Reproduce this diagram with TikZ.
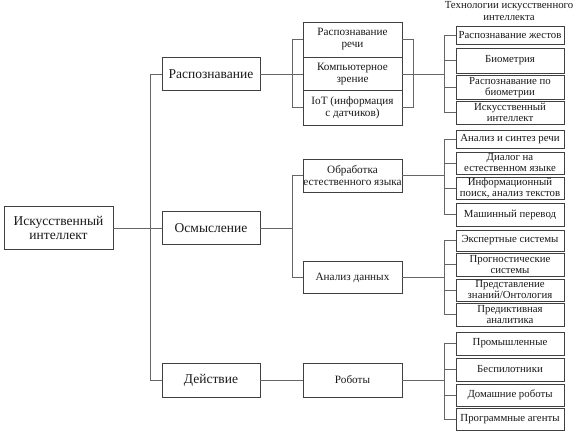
\documentclass[tikz,border=0pt]{standalone}
\usepackage{fontspec}
\setmainfont{Liberation Serif}
\begin{document}
\begin{tikzpicture}[x=1pt,y=-1pt,
  boxc/.style={draw=black!75, line width=0.9pt, fill=white, inner sep=0pt, align=center, text=black!90},
  big/.style={boxc, font=\fontsize{13.5}{14}\selectfont},
  mid/.style={boxc, minimum width=99, font=\fontsize{11.2}{12}\selectfont},
  sml/.style={boxc, minimum width=108, font=\fontsize{10.8}{11}\selectfont},
  conn/.style={draw=black!60, line width=0.7pt}]
\useasboundingbox (0,0) rectangle (577,432);
% root and level 1
\node[big, minimum width=109, minimum height=43] (root) at (58.5,228) {Искусственный\\интеллект};
\node[big, minimum width=98, minimum height=33] (rec) at (211,74) {Распознавание};
\node[big, minimum width=98, minimum height=33] (osm) at (211,228) {Осмысление};
\node[big, minimum width=98, minimum height=34] (act) at (211,380) {Действие};
% level 2
\node[mid, minimum height=35] (sp) at (352.5,39.5) {Распознавание\\речи};
\node[mid, minimum height=33] (cv) at (352.5,74) {Компьютерное\\зрение};
\node[mid, minimum height=35] (iot) at (352.5,107.5) {IoT (информация\\с датчиков)};
\node[mid, minimum height=33] (nlp) at (352.5,175.5) {Обработка\\естественного языка};
\node[mid, minimum height=32] (da) at (352.5,277.5) {Анализ данных};
\node[mid, minimum height=34] (rob) at (352.5,380) {Роботы};
% header
\node[align=center, inner sep=0pt, text=black!90, font=\fontsize{10.8}{11.5}\selectfont] (hdr) at (509,11) {Технологии искусственного\\интеллекта};
% level 3
\node[sml, minimum height=18] (r1) at (510,35) {Распознавание жестов};
\node[sml, minimum height=25] (r2) at (510,60.5) {Биометрия};
\node[sml, minimum height=24] (r3) at (510,87.5) {Распознавание по\\биометрии};
\node[sml, minimum height=23] (r4) at (510,112.5) {Искусственный\\интеллект};
\node[sml, minimum height=18] (r5) at (510,139) {Анализ и синтез речи};
\node[sml, minimum height=22] (r6) at (510,163) {Диалог на\\естественном языке};
\node[sml, minimum height=22] (r7) at (510,188) {Информационный\\поиск, анализ текстов};
\node[sml, minimum height=23] (r8) at (510,214.5) {Машинный перевод};
\node[sml, minimum height=21] (r9) at (510,240.5) {Экспертные системы};
\node[sml, minimum height=23] (r10) at (510,264.5) {Прогностические\\системы};
\node[sml, minimum height=22] (r11) at (510,290) {Представление\\знаний/Онтология};
\node[sml, minimum height=23] (r12) at (510,314.5) {Предиктивная\\аналитика};
\node[sml, minimum height=23] (r13) at (510,343.5) {Промышленные};
\node[sml, minimum height=23] (r14) at (510,369.5) {Беспилотники};
\node[sml, minimum height=22] (r15) at (510,395) {Домашние роботы};
\node[sml, minimum height=22] (r16) at (510,419) {Программные агенты};
% junction coordinates
\coordinate (g1) at (445,74);
\coordinate (g2) at (445,175.5);
\coordinate (g3) at (445,277.5);
\coordinate (g4) at (445,380);
\coordinate (j2) at (293,228);
% connectors level 0-1
\draw[conn] (root.east) -- (osm.west);
\draw[conn] (rec.west) -- ++(-11,0) |- (act.west);
% recognition group
\draw[conn] (rec.east) -- (cv.west);
\draw[conn] (sp.west) -- ++(-10,0) |- (iot.west);
\draw[conn] (sp.east) -- ++(11,0) |- (iot.east);
\draw[conn] (cv.east) -- (g1);
% understanding group
\draw[conn] (osm.east) -- (j2);
\draw[conn] (nlp.west) -- ++(-10,0) |- (da.west);
\draw[conn] (nlp.east) -- (g2);
\draw[conn] (da.east) -- (g3);
% action
\draw[conn] (act.east) -- (rob.west);
\draw[conn] (rob.east) -- (g4);
% right brackets
\draw[conn] (r1.west) -- ++(-11,0) |- (r4.west);
\draw[conn] (r2.west) -- ++(-11,0);
\draw[conn] (r3.west) -- ++(-11,0);
\draw[conn] (r5.west) -- ++(-11,0) |- (r8.west);
\draw[conn] (r6.west) -- ++(-11,0);
\draw[conn] (r7.west) -- ++(-11,0);
\draw[conn] (r9.west) -- ++(-11,0) |- (r12.west);
\draw[conn] (r10.west) -- ++(-11,0);
\draw[conn] (r11.west) -- ++(-11,0);
\draw[conn] (r13.west) -- ++(-11,0) |- (r16.west);
\draw[conn] (r14.west) -- ++(-11,0);
\draw[conn] (r15.west) -- ++(-11,0);
\end{tikzpicture}
\end{document}
